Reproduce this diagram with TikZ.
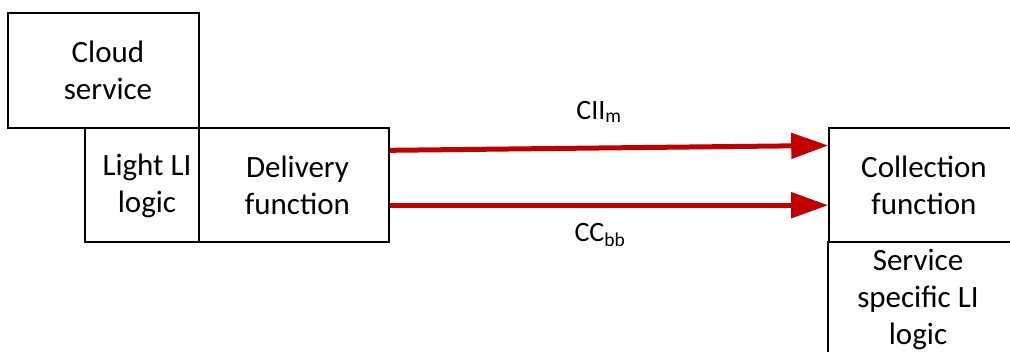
\documentclass[tikz,border=0pt]{standalone}
\usepackage{fontspec}
\setmainfont{Carlito}
\usetikzlibrary{arrows.meta,calc}
\definecolor{linkred}{HTML}{C00000}
\tikzset{
  box/.style 2 args={draw=black, line width=1.6pt, rectangle, inner sep=0pt,
    minimum width=#1, minimum height=#2},
  boxtext/.style={align=center, inner sep=0pt,
    font=\fontsize{31}{37}\selectfont},
  linklabel/.style={inner sep=0pt, font=\fontsize{28}{32}\selectfont},
  link/.style={draw=linkred, line width=5pt,
    -{Triangle[length=37pt,width=25pt]}}
}
\begin{document}
\begin{tikzpicture}[x=1pt,y=-1pt]
  \useasboundingbox (0,0) rectangle (1010,352);
  \clip (0,0) rectangle (1010,352);

  % boxes
  \node[box={191pt}{115pt}] (cloud) at (103.5,70.5) {};
  \node[box={114pt}{114pt}] (light) at (142,185) {};
  \node[box={190pt}{114pt}] (deliv) at (294,185) {};
  \node[box={188pt}{114pt}] (coll)  at (923,185) {};
  \node[box={190pt}{116pt}] (svc)   at (923,300) {};

  % box texts
  \node[boxtext] (cloudtxt) at (108,70.5)  {Cloud\\service};
  \node[boxtext] (lighttxt) at (147,185.5) {Light LI\\logic};
  \node[boxtext] (delivtxt) at (297.5,185.5) {Delivery\\function};
  \node[boxtext] (colltxt)  at (924,185)   {Collection\\function};
  \node[boxtext] (svctxt)   at (918,300)   {Service\\specific LI\\logic};

  % interfaces
  \draw[link] ($(deliv.north east)!0.2!(deliv.south east)$)
           -- ($(coll.north west)!0.158!(coll.south west)$);
  \draw[link] ($(deliv.north east)!0.675!(deliv.south east)$)
           -- ($(coll.north west)!0.675!(coll.south west)$);

  \node[linklabel] (cii)  at (599,112) {CII\textsubscript{m}};
  \node[linklabel] (ccbb) at (600,235) {CC\textsubscript{bb}};
\end{tikzpicture}
\end{document}
